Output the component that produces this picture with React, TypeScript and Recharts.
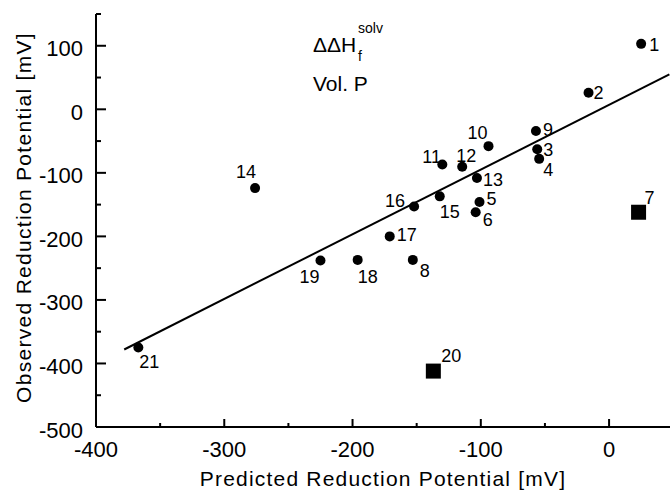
import React from "react";
import {
  ScatterChart,
  Scatter,
  XAxis,
  YAxis,
  ReferenceLine,
  Label,
} from "recharts";

// compound numbers, predicted vs observed reduction potential (mV)
const compoundIds = [1, 2, 3, 4, 5, 6, 7, 8, 9, 10, 11, 12, 13, 14, 15, 16, 17, 18, 19, 20, 21];
const predicted = [25, -16, -56, -54.5, -101, -104, 23, -153, -57, -94, -130, -114.5, -103, -276, -132, -152, -171, -196, -225, -137, -367];
const observed = [103, 26, -63, -78, -146, -162, -162, -237, -34, -58, -87, -90.5, -108, -124, -137, -153, -200, -237, -238, -412, -375];
const outlierIds = [7, 20];

// regression line end points
const fitStart = { x: -378, y: -378 };
const fitEnd = { x: 47, y: 55 };

const xTickValues = [-400, -350, -300, -250, -200, -150, -100, -50, 0];
const yTickValues = [-500, -450, -400, -350, -300, -250, -200, -150, -100, -50, 0, 50, 100, 150];

// where each number sits relative to its marker (dx, baseline dy)
const labelOffset: Record<number, [number, number]> = {
  1: [8, 7], 2: [5, 6], 3: [6, 7], 4: [4, 17], 5: [7, 3], 6: [7, 14],
  7: [6, -8], 8: [7, 17], 9: [7, 5], 10: [-21, -7], 11: [-20, -2],
  12: [-6, -5], 13: [6, 8], 14: [-19, -10], 15: [0, 22], 16: [-29, 0],
  17: [7, 5], 18: [0, 23], 19: [-21, 22], 20: [8, -9], 21: [1, 20],
};

const font = "'Liberation Sans', Arial, Helvetica, sans-serif";

const points = compoundIds.map((id, i) => ({ id, x: predicted[i], y: observed[i] }));
const circles = points.filter((p) => !outlierIds.includes(p.id));
const squares = points.filter((p) => outlierIds.includes(p.id));

const NumberLabel = ({ cx, cy, id }: any) => {
  const [dx, dy] = labelOffset[id] || [6, 6];
  return (
    <text x={cx + dx} y={cy + dy} fontSize={18} fontFamily={font} fill="#000">
      {id}
    </text>
  );
};

const Dot = (props: any) => {
  const { cx, cy, payload } = props;
  return (
    <g>
      <circle cx={cx} cy={cy} r={5} fill="#000" />
      <NumberLabel cx={cx} cy={cy} id={payload.id} />
    </g>
  );
};

const Square = (props: any) => {
  const { cx, cy, payload } = props;
  return (
    <g>
      <rect x={cx - 7.5} y={cy - 7.5} width={15} height={15} fill="#000" />
      <NumberLabel cx={cx} cy={cy} id={payload.id} />
    </g>
  );
};

const XTick = ({ x, y, payload }: any) => {
  const v = payload.value;
  const major = v % 100 === 0;
  return (
    <g>
      <line x1={x} x2={x} y1={y} y2={y - (major ? 8 : 4)} stroke="#000" strokeWidth={2} />
      {major && (
        <text x={x} y={y + 30} textAnchor="middle" fontSize={22} fontFamily={font} fill="#000">
          {String(v)}
        </text>
      )}
    </g>
  );
};

const YTick = ({ x, y, payload }: any) => {
  const v = payload.value;
  const major = v % 100 === 0 && v <= 100;
  return (
    <g>
      <line x1={x} x2={x + (major ? 10 : 5)} y1={y} y2={y} stroke="#000" strokeWidth={2} />
      {major && (
        <text x={x - 13} y={y + 3} textAnchor="end" dominantBaseline="central" fontSize={22} fontFamily={font} fill="#000">
          {String(v)}
        </text>
      )}
    </g>
  );
};

const YTitle = ({ viewBox }: any) => {
  const cx = 23;
  const cy = viewBox.y + viewBox.height / 2 - 3;
  return (
    <text
      x={cx}
      y={cy}
      transform={`rotate(-90 ${cx} ${cy})`}
      textAnchor="middle"
      dominantBaseline="central"
      fontSize={21}
      letterSpacing={1.3}
      fontFamily={font}
      fill="#000"
    >
      Observed Reduction Potential [mV]
    </text>
  );
};

export default function App() {
  return (
    <div style={{ position: "absolute", left: 0, top: 0, width: 670, height: 491, background: "#fff" }}>
      <ScatterChart width={670} height={491} margin={{ top: 14, right: 0, bottom: 0, left: 0 }}>
        <XAxis
          type="number"
          dataKey="x"
          domain={[-400, 47.5]}
          ticks={xTickValues}
          allowDataOverflow
          tickLine={false}
          tickSize={0}
          tickMargin={0}
          tick={<XTick />}
          axisLine={{ stroke: "#000", strokeWidth: 2 }}
          height={64}
        >
          <Label
            value="Predicted Reduction Potential [mV]"
            position="insideBottom"
            offset={5}
            style={{ fontSize: 21, fontFamily: font, fill: "#000", letterSpacing: 1.2 }}
          />
        </XAxis>
        <YAxis
          type="number"
          dataKey="y"
          domain={[-500, 150]}
          ticks={yTickValues}
          allowDataOverflow
          tickLine={false}
          tickSize={0}
          tickMargin={0}
          tick={<YTick />}
          axisLine={{ stroke: "#000", strokeWidth: 2 }}
          width={96}
        >
          <Label content={<YTitle />} />
        </YAxis>
        <ReferenceLine
          segment={[fitStart, fitEnd]}
          stroke="#000"
          strokeWidth={2}
          ifOverflow="visible"
        />
        <Scatter data={circles} shape={<Dot />} isAnimationActive={false} />
        <Scatter data={squares} shape={<Square />} isAnimationActive={false} />
      </ScatterChart>
      <svg width={670} height={491} style={{ position: "absolute", left: 0, top: 0, pointerEvents: "none" }}>
        <text x={313} y={52} fontSize={21} fontFamily={font} fill="#000">ΔΔH</text>
        <text x={358} y={33} fontSize={14} fontFamily={font} fill="#000">solv</text>
        <text x={358} y={61} fontSize={14} fontFamily={font} fill="#000">f</text>
        <text x={313} y={91} fontSize={21} fontFamily={font} fill="#000">Vol. P</text>
      </svg>
    </div>
  );
}
